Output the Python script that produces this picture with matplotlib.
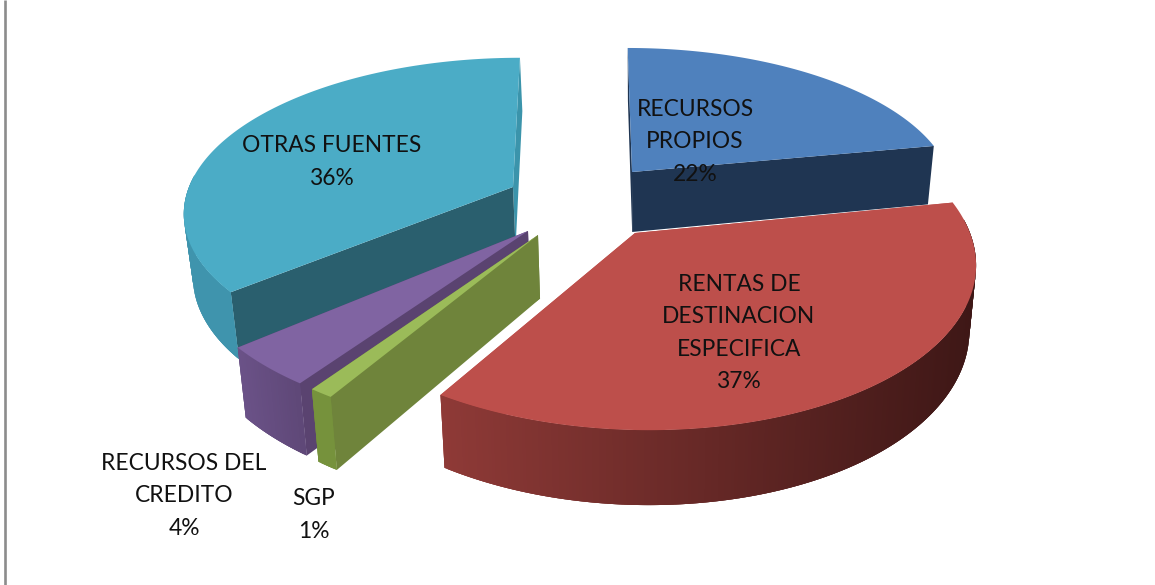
import numpy as np
import matplotlib
matplotlib.use("Agg")
import matplotlib.pyplot as plt
from matplotlib.patches import Polygon
from matplotlib.colors import to_rgb

categories = ["RECURSOS\nPROPIOS", "RENTAS DE\nDESTINACION\nESPECIFICA", "SGP", "RECURSOS DEL\nCREDITO", "OTRAS FUENTES"]
shares = [22, 37, 1, 4, 36]

START = 0.0
top_colors = ["#4f81bd", "#bd4f4b", "#9bbb59", "#8064a2", "#4bacc6"]
start_face = ["#1f3552", "#bd4f4b", "#6f843b", "#5a4370", "#2a5f6e"]
end_face = ["#1f3552", "#bd4f4b", "#6f843b", "#5a4370", "#3b94ab"]
rim_left = ["#2a4a72", "#8f3a37", "#76923c", "#6b5288", "#3f94ad"]
rim_right = ["#2a4a72", "#3e1716", "#76923c", "#5f4878", "#3f94ad"]
apex = [(632, 172), (635, 233), (538, 235), (528, 231), (513, 187)]
radius_a = [317, 335, 337, 340, 324]
radius_b = [143, 167, 167, 165, 149]
persp = [0.153, 0.153, 0.153, 0.153, 0.153]
shear = [-5, -12, 0, 0, 8]
label_xy = [(695, 142), (739, 333), (314, 515), (184, 496), (332, 162)]
order = [4, 0, 3, 2, 1]

fig = plt.figure(figsize=(11.55, 5.85), dpi=100)
ax = fig.add_axes([0, 0, 1, 1])
ax.set_xlim(0, 1155)
ax.set_ylim(585, 0)
ax.axis("off")
ax.plot([5.2, 5.2], [0, 585], color="#8c8c8c", lw=1.9, solid_capstyle="butt")


def top_point(i, deg):
    t = np.radians(deg)
    x, v = np.sin(t), np.cos(t)
    den = 1 + persp[i] * v
    return np.column_stack([apex[i][0] + (radius_a[i] * x + shear[i] * v) / den,
                            apex[i][1] - radius_b[i] * v / den])


def drop(pts):
    pts = np.atleast_2d(pts)
    d = 50 + 0.058 * pts[:, 1]
    return np.column_stack([pts[:, 0] + (640 - pts[:, 0]) * 0.02, pts[:, 1] + d])


def draw_slice(i, a0, a1):
    theta = np.linspace(a0, a1, max(4, int((a1 - a0) * 2)))
    outline = top_point(i, theta)
    c = np.array(apex[i], float)[None, :]
    c_low = drop(c)
    z = 2 + order.index(i)

    # cut faces first, then the outer wall, then the top surface
    ends = drop(outline[[0, -1]])
    ax.add_patch(Polygon(np.vstack([c, outline[-1], ends[1], c_low]), fc=end_face[i], ec="none", zorder=z))
    ax.add_patch(Polygon(np.vstack([c, outline[0], ends[0], c_low]), fc=start_face[i], ec="none", zorder=z + 0.1))

    # only the part of the wall that faces the viewer
    front = (theta > 85) & (theta < 275)
    if front.sum() >= 2:
        rim = outline[front]
        low = drop(rim)
        cl, cr = np.array(to_rgb(rim_left[i])), np.array(to_rgb(rim_right[i]))
        xmin, xmax = rim[:, 0].min(), rim[:, 0].max()
        idx = list(range(len(rim) - 1))
        mids = (rim[:-1, 0] + rim[1:, 0]) / 2
        for k in sorted(idx, key=lambda n: mids[n]):
            f = (mids[k] - xmin) / max(xmax - xmin, 1)
            col = tuple(cl + (cr - cl) * f)
            j = min(k + 2, len(rim) - 1)
            m = max(k - 1, 0)
            ax.add_patch(Polygon(np.vstack([rim[m], rim[j], low[j], low[m]]),
                                 fc=col, ec="none", zorder=z + 0.2))

    ax.add_patch(Polygon(np.vstack([c, outline]), fc=top_colors[i], ec="none", zorder=z + 0.5))


edges = START + np.concatenate([[0], np.cumsum(shares)]) * 360.0 / sum(shares)
for i in order:
    draw_slice(i, edges[i], edges[i + 1])

for i, (name, share) in enumerate(zip(categories, shares)):
    ax.text(*label_xy[i], f"{name}\n{share}%", ha="center", va="center", multialignment="center",
            family="Lato", fontsize=16.4, color="#111111", linespacing=1.65, zorder=20)

fig.savefig("out.png", dpi=100)
